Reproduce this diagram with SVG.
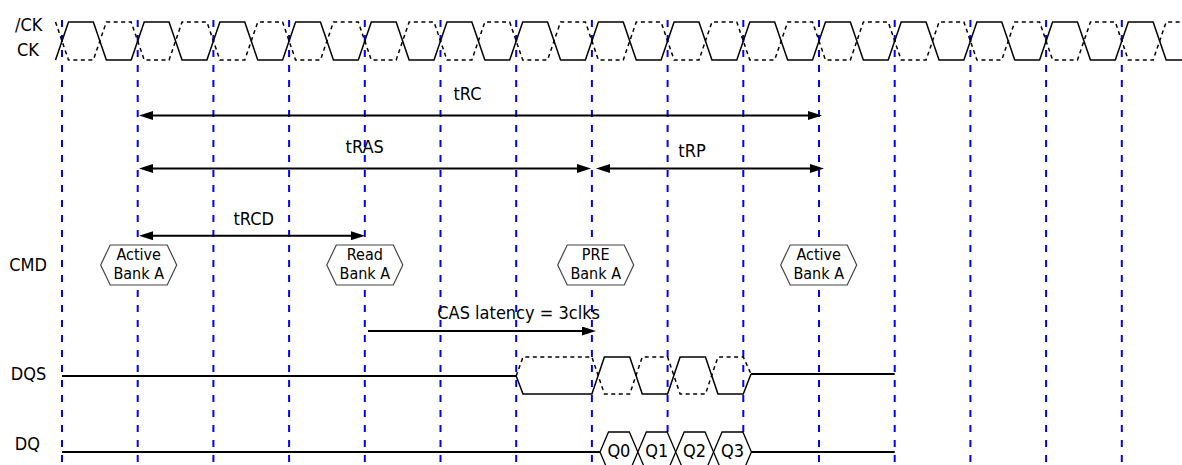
<svg xmlns="http://www.w3.org/2000/svg" width="1182" height="465" viewBox="0 0 1182 465">
<style>
text{font-family:"DejaVu Sans Condensed","Liberation Sans",sans-serif;font-size:18px;fill:#000}
.mid{text-anchor:middle}
.hx{font-size:16px}
.grid line{stroke:#0000ff;stroke-width:2;stroke-dasharray:7 8}
.wave{fill:none;stroke:#000;stroke-width:1.5}
.dash{fill:none;stroke:#000;stroke-width:1.5;stroke-dasharray:4 3.5}
.idle{fill:none;stroke:#000;stroke-width:2}
.cmd{fill:#fff;stroke:#444;stroke-width:1.2}
.q{fill:#fff;stroke:#000;stroke-width:1.3}
.arrow{stroke:#000;stroke-width:2;fill:none}
</style>
<defs>
<marker id="ah" viewBox="0 0 14 9" refX="8" refY="4.5" markerWidth="14" markerHeight="9" markerUnits="userSpaceOnUse" orient="auto-start-reverse">
<path d="M0,0 L14,4.5 L0,9 z" fill="#000"/>
</marker>
</defs>
<rect width="1182" height="465" fill="#fff"/>
<g id="grid" class="grid">
<line x1="62" y1="20" x2="62" y2="465"/>
<line x1="137.7" y1="20" x2="137.7" y2="465"/>
<line x1="213.4" y1="20" x2="213.4" y2="465"/>
<line x1="289.1" y1="20" x2="289.1" y2="465"/>
<line x1="364.8" y1="20" x2="364.8" y2="465"/>
<line x1="440.5" y1="20" x2="440.5" y2="465"/>
<line x1="516.2" y1="20" x2="516.2" y2="465"/>
<line x1="591.9" y1="20" x2="591.9" y2="465"/>
<line x1="667.6" y1="20" x2="667.6" y2="465"/>
<line x1="743.3" y1="20" x2="743.3" y2="465"/>
<line x1="819" y1="20" x2="819" y2="465"/>
<line x1="894.7" y1="20" x2="894.7" y2="465"/>
<line x1="970.4" y1="20" x2="970.4" y2="465"/>
<line x1="1046.1" y1="20" x2="1046.1" y2="465"/>
<line x1="1121.8" y1="20" x2="1121.8" y2="465"/>
</g>
<g id="signal-labels">
<text x="15" y="31">/CK</text>
<text x="17" y="56">CK</text>
<text x="9.3" y="271">CMD</text>
<text x="10.7" y="379.5">DQS</text>
<text x="14.7" y="450">DQ</text>
</g>
<g id="clock">
<path class="wave" d="M55.5,60 l13,-38 h24.85 l13,38 h24.85 l13,-38 h24.85 l13,38 h24.85 l13,-38 h24.85 l13,38 h24.85 l13,-38 h24.85 l13,38 h24.85 l13,-38 h24.85 l13,38 h24.85 l13,-38 h24.85 l13,38 h24.85 l13,-38 h24.85 l13,38 h24.85 l13,-38 h24.85 l13,38 h24.85 l13,-38 h24.85 l13,38 h24.85 l13,-38 h24.85 l13,38 h24.85 l13,-38 h24.85 l13,38 h24.85 l13,-38 h24.85 l13,38 h24.85 l13,-38 h24.85 l13,38 h24.85 l13,-38 h24.85 l13,38 h24.85 l13,-38 h24.85 l13,38 h24.85 l13,-38 h24.85 l13,38 h24.85 l13,-38 h24.85 l13,38 h24.85"/>
<path class="dash" d="M55.5,22 l13,38 h24.85 l13,-38 h24.85 l13,38 h24.85 l13,-38 h24.85 l13,38 h24.85 l13,-38 h24.85 l13,38 h24.85 l13,-38 h24.85 l13,38 h24.85 l13,-38 h24.85 l13,38 h24.85 l13,-38 h24.85 l13,38 h24.85 l13,-38 h24.85 l13,38 h24.85 l13,-38 h24.85 l13,38 h24.85 l13,-38 h24.85 l13,38 h24.85 l13,-38 h24.85 l13,38 h24.85 l13,-38 h24.85 l13,38 h24.85 l13,-38 h24.85 l13,38 h24.85 l13,-38 h24.85 l13,38 h24.85 l13,-38 h24.85 l13,38 h24.85 l13,-38 h24.85 l13,38 h24.85 l13,-38 h24.85"/>
</g>
<g id="dqs">
<path class="idle" d="M62,376 H516.2"/>
<path class="wave" d="M516.2,376 L523,394 H591.9 L604.4,357 H629.75 L642.25,394 H667.6 L680.1,357 H705.45 L717.95,394 H743.3 L751,374"/>
<path class="dash" d="M516.2,376 L523,357 H591.9 L604.4,394 H629.75 L642.25,357 H667.6 L680.1,394 H705.45 L717.95,357 H743.3 L751,374"/>
<path class="idle" d="M751,374 H894.7"/>
</g>
<g id="dq">
<path class="idle" d="M62,452 H600"/>
<path class="idle" d="M751.4,452 H894.7"/>
</g>
<g id="q0"><polygon class="q" points="600,452 608.5,432 629.35,432 637.85,452 629.35,472 608.5,472"/><text class="mid" x="618.9" y="457">Q0</text></g>
<g id="q1"><polygon class="q" points="637.85,452 646.35,432 667.2,432 675.7,452 667.2,472 646.35,472"/><text class="mid" x="656.8" y="457">Q1</text></g>
<g id="q2"><polygon class="q" points="675.7,452 684.2,432 705.05,432 713.55,452 705.05,472 684.2,472"/><text class="mid" x="694.6" y="457">Q2</text></g>
<g id="q3"><polygon class="q" points="713.55,452 722.05,432 742.9,432 751.4,452 742.9,472 722.05,472"/><text class="mid" x="732.5" y="457">Q3</text></g>
<g id="cmd-active1"><polygon class="cmd" points="100.7,265 110.2,245 167.2,245 176.7,265 167.2,285 110.2,285"/><text class="mid hx" x="138.7" y="260">Active</text><text class="mid hx" x="138.7" y="278.8">Bank A</text></g>
<g id="cmd-read"><polygon class="cmd" points="326.8,265 336.3,245 393.3,245 402.8,265 393.3,285 336.3,285"/><text class="mid hx" x="364.8" y="260">Read</text><text class="mid hx" x="364.8" y="278.8">Bank A</text></g>
<g id="cmd-pre"><polygon class="cmd" points="557.7,265 567.2,245 624.2,245 633.7,265 624.2,285 567.2,285"/><text class="mid hx" x="595.7" y="260">PRE</text><text class="mid hx" x="595.7" y="278.8">Bank A</text></g>
<g id="cmd-active2"><polygon class="cmd" points="780.7,265 790.2,245 847.2,245 856.7,265 847.2,285 790.2,285"/><text class="mid hx" x="818.7" y="260">Active</text><text class="mid hx" x="818.7" y="278.8">Bank A</text></g>
<g id="connectors">
<line class="arrow" x1="145" y1="115.5" x2="816" y2="115.5" marker-start="url(#ah)" marker-end="url(#ah)"/>
<line class="arrow" x1="145" y1="168.5" x2="585" y2="168.5" marker-start="url(#ah)" marker-end="url(#ah)"/>
<line class="arrow" x1="602" y1="168.5" x2="818" y2="168.5" marker-start="url(#ah)" marker-end="url(#ah)"/>
<line class="arrow" x1="145" y1="235.7" x2="359" y2="235.7" marker-start="url(#ah)" marker-end="url(#ah)"/>
<line class="arrow" x1="368" y1="331" x2="590" y2="331" marker-end="url(#ah)"/>
</g>
<g id="connector-labels">
<text class="mid" x="467.5" y="99.5">tRC</text>
<text class="mid" x="364.7" y="153.3">tRAS</text>
<text class="mid" x="692" y="157">tRP</text>
<text class="mid" x="253.7" y="225">tRCD</text>
<text x="437.3" y="319.3">CAS latency = 3clks</text>
</g>
</svg>
